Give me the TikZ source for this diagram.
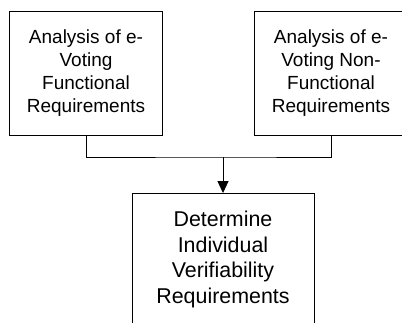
\documentclass[tikz,border=0pt]{standalone}
\usepackage{fontspec}
\setmainfont{Liberation Sans}
\usetikzlibrary{arrows.meta}
\begin{document}
\begin{tikzpicture}[x=1pt,y=-1pt,
  topbox/.style={draw=black, line width=0.9pt, minimum width=153pt, minimum height=124pt,
    align=center, inner sep=0pt, font=\fontsize{19pt}{23pt}\selectfont},
  botbox/.style={draw=black, line width=0.9pt, minimum width=182pt, minimum height=132pt,
    align=center, inner sep=0pt, font=\fontsize{21.4pt}{25.6pt}\selectfont},
  conn/.style={draw=black, line width=0.9pt}]
\useasboundingbox (0,0) rectangle (402,322);
\node[topbox] (lb) at (86,73) {Analysis of e-\\Voting\\Functional\\Requirements};
\node[topbox] (rb) at (331,73) {Analysis of e-\\Voting Non-\\Functional\\Requirements};
\node[botbox] (bb) at (223,259.5) {Determine\\Individual\\Verifiability\\Requirements};
\coordinate (j) at (bb.north |- 0,157);
\draw[conn] (lb.south) |- (j) -| (rb.south);
\draw[conn, -{Triangle[width=11pt,length=12pt]}] (j) -- (bb.north);
\end{tikzpicture}
\end{document}
